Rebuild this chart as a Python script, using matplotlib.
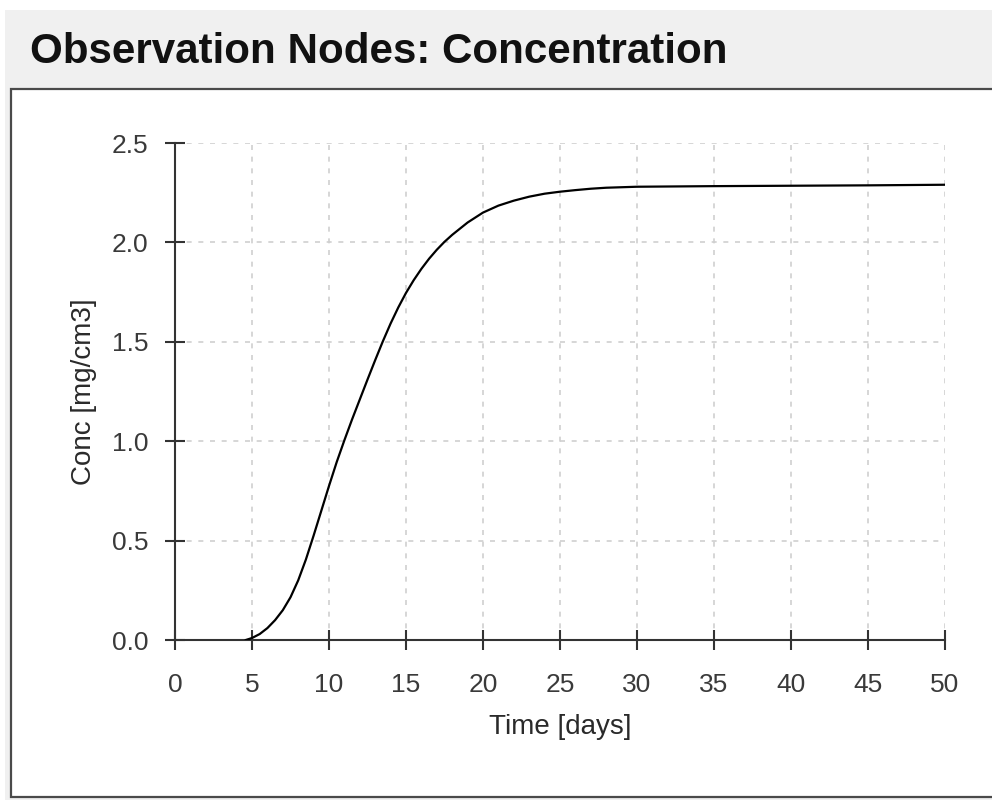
import matplotlib.pyplot as plt
from matplotlib.patches import Rectangle

plt.rcParams["font.family"] = ["Liberation Sans", "DejaVu Sans"]

# breakthrough curve at the observation node
time_days = [4.6, 5.0, 5.5, 6.0, 6.5, 7.0, 7.5, 8.0, 8.5, 9.0, 9.5, 10.0, 10.5,
             11.0, 11.5, 12.0, 12.5, 13.0, 13.5, 14.0, 14.5, 15.0, 15.5, 16.0,
             16.5, 17.0, 17.5, 18.0, 19.0, 20.0, 21.0, 22.0, 23.0, 24.0, 25.0,
             26.0, 27.0, 28.0, 30.0, 35.0, 40.0, 45.0, 50.0]
conc = [0.0, 0.01, 0.03, 0.06, 0.10, 0.15, 0.215, 0.30, 0.405, 0.525, 0.65,
        0.775, 0.895, 1.005, 1.11, 1.21, 1.31, 1.408, 1.503, 1.592, 1.673,
        1.746, 1.81, 1.867, 1.918, 1.963, 2.003, 2.038, 2.10, 2.15, 2.185,
        2.21, 2.23, 2.245, 2.255, 2.263, 2.27, 2.275, 2.28, 2.283, 2.285,
        2.287, 2.29]

x_ticks = list(range(0, 51, 5))
y_ticks = [0.0, 0.5, 1.0, 1.5, 2.0, 2.5]

W, H = 992, 800
fig = plt.figure(figsize=(W / 100, H / 100), dpi=100)

# window header and panel frame
fig.patches.append(Rectangle((5 / W, 0), 1, 1 - 10 / H, transform=fig.transFigure,
                             facecolor="#f0f0f0", edgecolor="none", zorder=-2))
fig.patches.append(Rectangle((11 / W, 3 / H), 1.2, (797 - 89) / H,
                             transform=fig.transFigure, facecolor="white",
                             edgecolor="#4a4a4a", linewidth=1.6, zorder=-1))
fig.text(30 / W, 1 - 52 / H, "Observation Nodes: Concentration",
         fontsize=30.3, fontweight="bold", va="center", ha="left", color="#111111")

ax = fig.add_axes([175 / W, 1 - 640 / H, (945 - 175) / W, (640 - 143) / H])
ax.set_facecolor("none")
ax.plot(time_days, conc, color="black", linewidth=1.6, zorder=3)

ax.set_xlim(0, 50)
ax.set_ylim(0, 2.5)
ax.set_xticks(x_ticks)
ax.set_yticks(y_ticks)
ax.set_yticklabels([f"{v:.1f}" for v in y_ticks])

for side in ["top", "right"]:
    ax.spines[side].set_visible(False)
for side in ["left", "bottom"]:
    ax.spines[side].set_color("#333333")
    ax.spines[side].set_linewidth(1.5)

ax.tick_params(direction="inout", length=14, width=1.5, color="#333333",
               labelsize=19, labelcolor="#3a3a3a")
ax.tick_params(axis="x", pad=17)
ax.tick_params(axis="y", pad=12)
ax.grid(True, color="#cfcfcf", linestyle=(0, (3, 4)), linewidth=1.2)
ax.set_axisbelow(True)

ax.set_xlabel("Time [days]", fontsize=20, color="#2a2a2a", labelpad=12)
ax.set_ylabel("Conc [mg/cm3]", fontsize=20, color="#2a2a2a", labelpad=11)

fig.savefig("out.png", dpi=100)
